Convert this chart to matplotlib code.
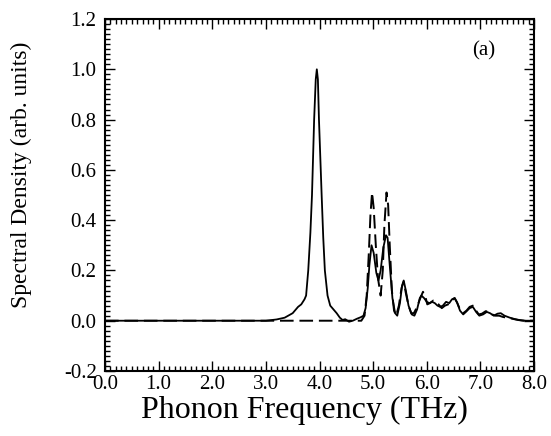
import matplotlib
matplotlib.use("Agg")
import matplotlib.pyplot as plt
from matplotlib.ticker import MultipleLocator

# Solid curve (frequency in THz, spectral density)
solid_freq = [0.0, 3.0, 3.2, 3.35, 3.5, 3.6, 3.66, 3.72, 3.75, 3.79, 3.83, 3.86, 3.9, 3.93,
              3.95, 3.97, 3.99, 4.02, 4.04, 4.07, 4.1, 4.15, 4.2, 4.26, 4.32, 4.38, 4.43,
              4.48, 4.55, 4.62, 4.7, 4.77, 4.82, 4.86, 4.9, 4.93, 4.97, 5.01, 5.06, 5.1,
              5.14, 5.19, 5.24, 5.27, 5.31, 5.36, 5.41, 5.45, 5.5, 5.54, 5.57, 5.61, 5.66,
              5.72, 5.77, 5.82, 5.87, 5.9, 5.95, 6.0, 6.05, 6.1, 6.15, 6.2, 6.25, 6.3,
              6.36, 6.42, 6.47, 6.52, 6.57, 6.62, 6.68, 6.73, 6.8, 6.86, 6.92, 6.98, 7.05,
              7.12, 7.18, 7.25, 7.32, 7.38, 7.45, 7.55, 7.65, 7.75, 7.85, 8.0]
solid_dens = [0.0, 0.0, 0.005, 0.012, 0.03, 0.055, 0.065, 0.085, 0.1, 0.2, 0.35, 0.5, 0.8, 0.96,
              1.0, 0.96, 0.8, 0.62, 0.5, 0.33, 0.2, 0.1, 0.06, 0.045, 0.03, 0.012, 0.003,
              0.006, -0.004, 0.0, 0.008, 0.014, 0.02, 0.05, 0.13, 0.22, 0.30, 0.27, 0.19, 0.16,
              0.2, 0.29, 0.34, 0.33, 0.22, 0.09, 0.03, 0.02, 0.07, 0.14, 0.16, 0.12, 0.06,
              0.025, 0.02, 0.045, 0.09, 0.1, 0.09, 0.075, 0.07, 0.075, 0.07, 0.06, 0.055, 0.06,
              0.075, 0.07, 0.085, 0.09, 0.07, 0.04, 0.025, 0.035, 0.05, 0.055, 0.035, 0.02, 0.025,
              0.035, 0.03, 0.02, 0.028, 0.03, 0.02, 0.012, 0.006, 0.002, 0.0, 0.0]

# Dashed curve
dash_freq = [0.0, 4.78, 4.84, 4.88, 4.92, 4.95, 4.98, 5.01, 5.05, 5.09, 5.14, 5.18, 5.21,
             5.25, 5.28, 5.31, 5.35, 5.39, 5.43, 5.48, 5.53, 5.57, 5.61, 5.66, 5.71, 5.76,
             5.82, 5.88, 5.93, 5.97, 6.01, 6.06, 6.12, 6.17, 6.22, 6.28, 6.34, 6.4, 6.46,
             6.52, 6.56, 6.62, 6.68, 6.74, 6.8, 6.86, 6.92, 6.97, 7.03, 7.1, 7.16, 7.22,
             7.28, 7.35, 7.42, 7.55, 7.7, 7.8, 8.0]
dash_dens = [0.0, 0.0, 0.02, 0.1, 0.27, 0.42, 0.51, 0.45, 0.3, 0.17, 0.1, 0.2, 0.38,
             0.51, 0.46, 0.3, 0.12, 0.04, 0.02, 0.06, 0.13, 0.155, 0.11, 0.06, 0.03, 0.03,
             0.055, 0.09, 0.115, 0.1, 0.065, 0.07, 0.08, 0.07, 0.065, 0.05, 0.06, 0.065, 0.08,
             0.09, 0.075, 0.045, 0.03, 0.04, 0.055, 0.06, 0.04, 0.025, 0.028, 0.038, 0.035, 0.025,
             0.02, 0.02, 0.015, 0.01, 0.003, 0.0, 0.0]

xticks = [0, 1, 2, 3, 4, 5, 6, 7, 8]
yticks = [-0.2, 0.0, 0.2, 0.4, 0.6, 0.8, 1.0, 1.2]

plt.rcParams['font.family'] = ['Liberation Serif', 'DejaVu Serif']

fig = plt.figure(figsize=(5.51, 4.36), dpi=100)
ax = fig.add_axes([105 / 551, 1 - 371 / 436, 429 / 551, 352 / 436])

ax.plot(solid_freq, solid_dens, color='black', lw=1.3)
ax.plot(dash_freq, dash_dens, color='black', lw=1.4, dashes=(7, 3))

ax.set_xlim(0, 8)
ax.set_ylim(-0.2, 1.2)
ax.set_xticks(xticks)
ax.set_xticklabels(["%.1f" % v for v in xticks])
ax.set_yticks(yticks)
ax.set_yticklabels(["%.1f" % v for v in yticks])
ax.xaxis.set_minor_locator(MultipleLocator(0.1))
ax.yaxis.set_minor_locator(MultipleLocator(0.02))
ax.tick_params(which='both', direction='in', top=True, right=True, labelsize=15, width=1)
ax.tick_params(which='major', length=7)
ax.tick_params(axis='y', which='major', pad=6)
ax.tick_params(axis='x', which='major', pad=3)
ax.tick_params(which='minor', length=3.5)
for s in ax.spines.values():
    s.set_linewidth(1.5)

ax.set_xlabel("Phonon Frequency (THz)", fontsize=23)
ax.xaxis.set_label_coords(0.466, -0.072)
ax.set_ylabel("Spectral Density (arb. units)", fontsize=17)
ax.yaxis.set_label_coords(-0.17, 0.557)
ax.text(0.909, 0.91, "(a)", transform=ax.transAxes, fontsize=15, ha='right', va='center')

fig.savefig("out.png", dpi=100)
